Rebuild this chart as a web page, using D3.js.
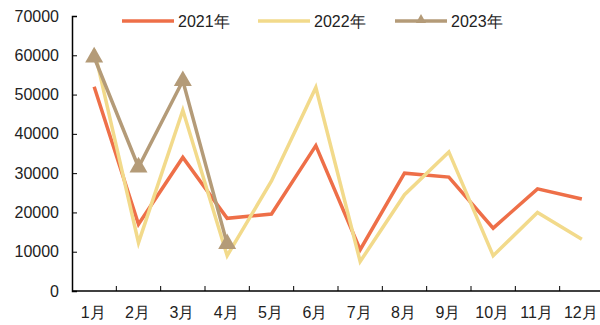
<!DOCTYPE html>
<html>
<head>
<meta charset="utf-8">
<script src="https://cdn.jsdelivr.net/npm/d3@7"></script>
<style>
  body { margin: 0; background: #fff; }
  text { font-family: "Liberation Sans", Arial, sans-serif; fill: #222; }
</style>
</head>
<body>
<svg width="600" height="325"></svg>
<script>
var months = ["1月", "2月", "3月", "4月", "5月", "6月", "7月", "8月", "9月", "10月", "11月", "12月"];
var y2021 = [52000, 17000, 34000, 18500, 19600, 37000, 10500, 30000, 29000, 16000, 26000, 23400];
var y2022 = [61500, 12300, 46000, 9000, 28000, 51800, 7500, 24500, 35400, 9000, 20000, 13200];
var y2023 = [59500, 31500, 53500, 12000];
var yTicks = [0, 10000, 20000, 30000, 40000, 50000, 60000, 70000];

var svg = d3.select("svg");

var x = d3.scaleBand().domain(months).range([72, 604]);
var y = d3.scaleLinear().domain([0, 70000]).range([291, 16]);

// y axis, ticks point inward
var yAxis = svg.append("g")
  .attr("transform", "translate(72,0)")
  .call(d3.axisLeft(y).tickValues(yTicks).tickSize(-5).tickPadding(13).tickFormat(d3.format("d")));
yAxis.select(".domain").attr("stroke", "#000").attr("stroke-width", 1.5);
yAxis.selectAll(".tick line").attr("stroke", "#000");
yAxis.selectAll("text").style("font-size", "16px").attr("fill", "#222");

// x axis, ticks at band boundaries
var xAxis = svg.append("g").attr("transform", "translate(0,291)");
xAxis.append("line")
  .attr("x1", 72).attr("x2", 604)
  .attr("stroke", "#000").attr("stroke-width", 1.5);
xAxis.selectAll("line.tk")
  .data(months.slice(1))
  .enter()
  .append("line")
  .attr("class", "tk")
  .attr("x1", function (d) { return x(d); })
  .attr("x2", function (d) { return x(d); })
  .attr("y1", 0).attr("y2", -5)
  .attr("stroke", "#000");
xAxis.selectAll("text")
  .data(months)
  .enter()
  .append("text")
  .attr("x", function (d) { return x(d) + x.bandwidth() / 2 - 1; })
  .attr("y", 27)
  .attr("text-anchor", "middle")
  .style("font-size", "16px")
  .text(function (d) { return d; });

var line = d3.line()
  .x(function (d, i) { return x(months[i]) + x.bandwidth() / 2; })
  .y(function (d) { return y(d); });

var series = [
  { name: "2021年", values: y2021, color: "#ee6f48", marker: false },
  { name: "2022年", values: y2022, color: "#f2da8b", marker: false },
  { name: "2023年", values: y2023, color: "#b49b78", marker: true }
];

series.forEach(function (s) {
  svg.append("path")
    .datum(s.values)
    .attr("fill", "none")
    .attr("stroke", s.color)
    .attr("stroke-width", 3.5)
    .attr("stroke-linejoin", "miter")
    .attr("d", line);
  if (s.marker) {
    svg.selectAll(null)
      .data(s.values)
      .enter()
      .append("path")
      .attr("d", d3.symbol().type(d3.symbolTriangle).size(140))
      .attr("fill", s.color)
      .attr("transform", function (d, i) {
        return "translate(" + (x(months[i]) + x.bandwidth() / 2) + "," + y(d) + ")";
      });
  }
});

// legend
var legX = [122, 258, 395];
var legend = svg.append("g");
series.forEach(function (s, i) {
  var g = legend.append("g").attr("transform", "translate(" + legX[i] + ",21)");
  g.append("line")
    .attr("x1", 0).attr("x2", 52)
    .attr("stroke", s.color).attr("stroke-width", 3.5);
  if (s.marker) {
    g.append("path")
      .attr("d", d3.symbol().type(d3.symbolTriangle).size(45))
      .attr("fill", s.color)
      .attr("transform", "translate(26,-1)");
  }
  g.append("text")
    .attr("x", 56)
    .attr("y", 6)
    .style("font-size", "16px")
    .text(s.name);
});
</script>
</body>
</html>
